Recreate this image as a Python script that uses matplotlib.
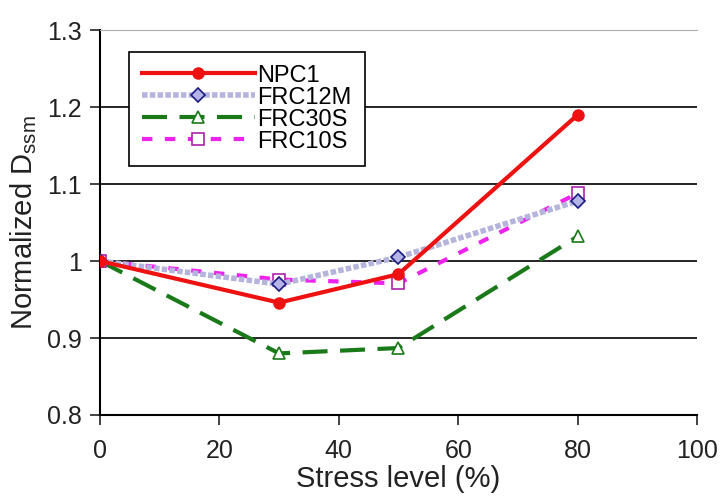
import matplotlib
matplotlib.use("Agg")
import matplotlib.pyplot as plt

plt.rcParams['font.family'] = ['Liberation Sans', 'DejaVu Sans']

stress = [0, 30, 50, 80]
npc1 = [1.0, 0.946, 0.983, 1.19]
frc12m = [1.0, 0.970, 1.005, 1.078]
frc30s = [1.0, 0.880, 0.887, 1.032]
frc10s = [1.0, 0.976, 0.971, 1.088]

fig = plt.figure(figsize=(7.21, 5.01), dpi=100)
ax = fig.add_axes([0.1387, 0.1717, 0.828, 0.768])

ax.plot(stress, npc1, color='#ee1111', lw=3, marker='o', ms=8,
        label='NPC1', zorder=5)
ax.plot(stress, frc12m, color='#b4b4dc', lw=4, ls=(0, (1, 0.4)), marker='D', ms=7,
        mfc='#b4b4e6', mec='#1a1a80', mew=1.2, label='FRC12M', zorder=4)
ax.plot(stress, frc30s, color='#1a7a1a', lw=3, ls=(0, (6, 3)), marker='^', ms=9,
        mfc='white', mec='#1a7a1a', mew=1.2, label='FRC30S', zorder=3)
ax.plot(stress, frc10s, color='#ee22ee', lw=3, ls=(0, (2.5, 3)), marker='s', ms=8,
        mfc='white', mec='#aa22aa', mew=1.2, label='FRC10S', zorder=3)

ax.set_xlim(0, 100)
ax.set_ylim(0.8, 1.3)
ax.set_xticks([0, 20, 40, 60, 80, 100])
ax.set_yticks([0.8, 0.9, 1.0, 1.1, 1.2, 1.3])
ax.set_yticklabels(['0.8', '0.9', '1', '1.1', '1.2', '1.3'])
ax.tick_params(labelsize=18, direction='out', length=7, width=1.2, colors='#222222')
ax.tick_params(axis='x', pad=10)
ax.tick_params(axis='y', pad=6)
for y in [0.9, 1.0, 1.1, 1.2]:
    ax.axhline(y, color='black', lw=1.2, zorder=1)

ax.spines['right'].set_visible(False)
ax.spines['top'].set_color('#aaaaaa')
ax.spines['left'].set_linewidth(1.5)
ax.spines['bottom'].set_linewidth(1.5)

ax.set_xlabel('Stress level (%)', fontsize=21, color='#222222', labelpad=2)
ax.set_ylabel(r'Normalized D$_{\mathregular{ssm}}$', fontsize=21, color='#222222', labelpad=6)

leg = ax.legend(loc='upper left', bbox_to_anchor=(0.028, 0.975), fontsize=17,
                handlelength=4.8, handletextpad=0.1, labelspacing=0.0,
                borderpad=0.55, fancybox=False, framealpha=1, edgecolor='black')
leg.get_frame().set_linewidth(1.2)

fig.savefig('out.png', dpi=100)
